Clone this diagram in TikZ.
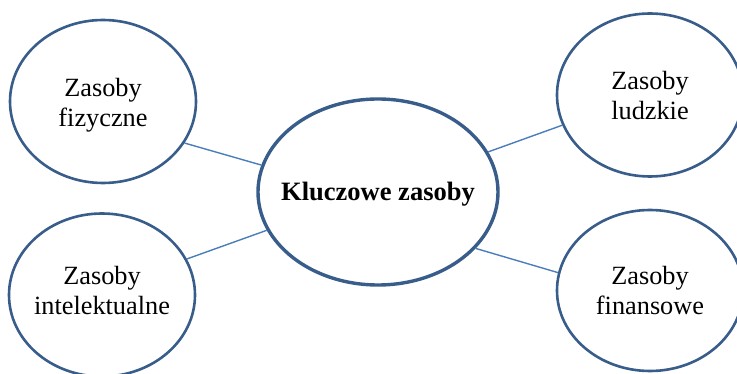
\documentclass[tikz,border=0pt]{standalone}
\usepackage{fontspec}
\setmainfont{Liberation Serif}
\usetikzlibrary{shapes.geometric}
\definecolor{rimblue}{HTML}{385D8A}
\definecolor{linkblue}{HTML}{4A7EBB}
\begin{document}
\begin{tikzpicture}[x=1pt,y=-1pt,
  bubble/.style={ellipse,draw=rimblue,line width=2.6pt,fill=white,inner sep=0pt,
    minimum width=186pt,minimum height=163pt},
  hub/.style={bubble,line width=3.4pt,minimum width=240pt,minimum height=186pt},
  caption/.style={align=center,inner sep=0pt,font=\fontsize{26.3}{30}\selectfont},
  link/.style={draw=linkblue,line width=1.4pt}]
  \useasboundingbox (0,0) rectangle (737,374);

  % resource bubbles
  \node[hub]    (c)  at (378,192)   {};
  \node[bubble] (tl) at (103,101.5) {};
  \node[bubble] (bl) at (102,295)   {};
  \node[bubble] (tr) at (650,95)    {};
  \node[bubble,minimum height=161pt] (br) at (650,290.5) {};

  % captions
  \node[caption,font=\fontsize{26.5}{30}\selectfont\bfseries] (ct) at ([yshift=-2pt]c.center) {Kluczowe zasoby};
  \node[caption] (tlt) at ([yshift=-4pt]tl.center) {Zasoby\\fizyczne};
  \node[caption] (blt) at ([yshift=4pt]bl.center) {Zasoby\\intelektualne};
  \node[caption] (trt) at ([yshift=-1pt]tr.center) {Zasoby\\ludzkie};
  \node[caption] (brt) at ([yshift=-0.5pt]br.center) {Zasoby\\finansowe};

  % connectors
  \draw[link] (tl.-27)  -- (c.167);
  \draw[link] (bl.23.5) -- (c.199);
  \draw[link] (c.20)    -- (tr.199);
  \draw[link] (c.-30.5) -- (br.169);
\end{tikzpicture}
\end{document}
